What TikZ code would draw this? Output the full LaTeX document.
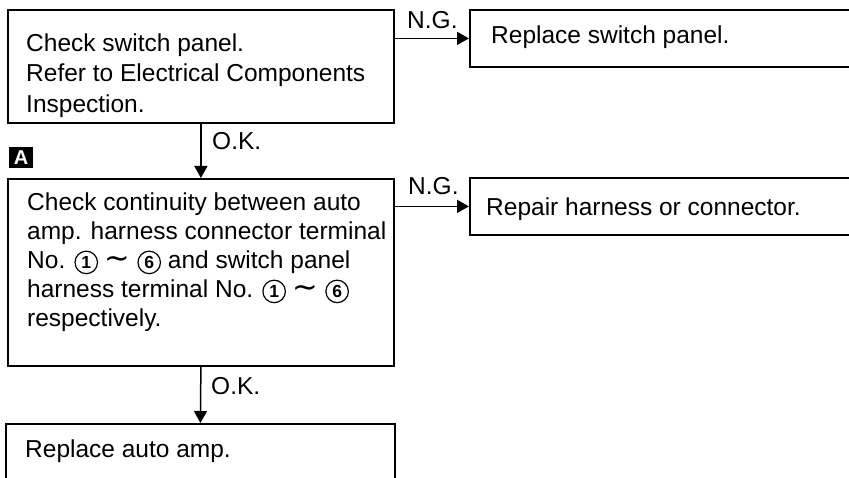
\documentclass[tikz,border=0pt]{standalone}
\usepackage{fontspec}
\setmainfont{Liberation Sans}
\newfontfamily\symfont{DejaVu Sans}
\usetikzlibrary{arrows.meta}
\newcommand\cnum[1]{\tikz[baseline=(cc.base)]\node[draw, circle, line width=1.2pt, minimum size=22.5pt, inner sep=0pt, font=\fontsize{17.5}{17.5}\selectfont\bfseries] (cc) {#1};}
\newcommand\tildesym{\scalebox{1.25}{\symfont ∼}}
\tikzset{
  boxshape/.style={draw, line width=1.8pt, rectangle, inner sep=0pt, anchor=north west},
  boxtext/.style={anchor=north west, inner sep=0pt, align=left, font=\fontsize{24.5}{30.5}\selectfont},
  lbl/.style={anchor=base west, inner sep=0pt, font=\fontsize{24.5}{29}\selectfont},
  arr/.style={line width=1.5pt, -{Triangle[width=13pt,length=12pt]}},
  marker/.style={fill=black, text=white, inner sep=0pt, minimum width=24pt, minimum height=21pt, font=\fontsize{20}{20}\selectfont\bfseries}
}
\begin{document}
\begin{tikzpicture}[x=1pt,y=-1pt]
\useasboundingbox (0,0) rectangle (849,478);
\clip (0,0) rectangle (849,478);
% boxes
\node[boxshape, minimum width=386pt, minimum height=113pt] (b1) at (7,9) {};
\node[boxshape, minimum width=386pt, minimum height=187pt] (b2) at (7,178) {};
\node[boxshape, minimum width=389pt, minimum height=90pt] (b3) at (5,423) {};
\node[boxshape, minimum width=440pt, minimum height=57pt] (r1) at (469,9) {};
\node[boxshape, minimum width=440pt, minimum height=57pt] (r2) at (469,177) {};
% texts
\node[boxtext] (t1) at (26,33.5) {Check switch panel.\\Refer to Electrical Components\\Inspection.};
\node[boxtext, font=\fontsize{24.5}{29}\selectfont] (t2) at (27,192.5) {Check continuity between auto\\amp. harness connector terminal\\No. \cnum{1} \tildesym{} \cnum{6} and switch panel\\harness terminal No. \cnum{1} \tildesym{} \cnum{6}\\respectively.};
\node[boxtext] (t3) at (25,439.5) {Replace auto amp.};
\node[boxtext] (t4) at (491,25.5) {Replace switch panel.};
\node[boxtext] (t5) at (486,197.5) {Repair harness or connector.};
% marker
\node[marker] (mA) at (21,157.5) {A};
% connectors
\draw[arr] (b1.south) -- (b2.north);
\draw[arr] (b2.south) -- (b3.north);
\draw[arr] (b1.east |- r1.west) -- (r1.west);
\draw[arr] (b2.east |- r2.west) -- (r2.west);
% labels
\node[lbl] (ok1) at (212,150) {O.K.};
\node[lbl] (ok2) at (211,394) {O.K.};
\node[lbl] (ng1) at (407,29) {N.G.};
\node[lbl] (ng2) at (408,195) {N.G.};
\end{tikzpicture}
\end{document}
